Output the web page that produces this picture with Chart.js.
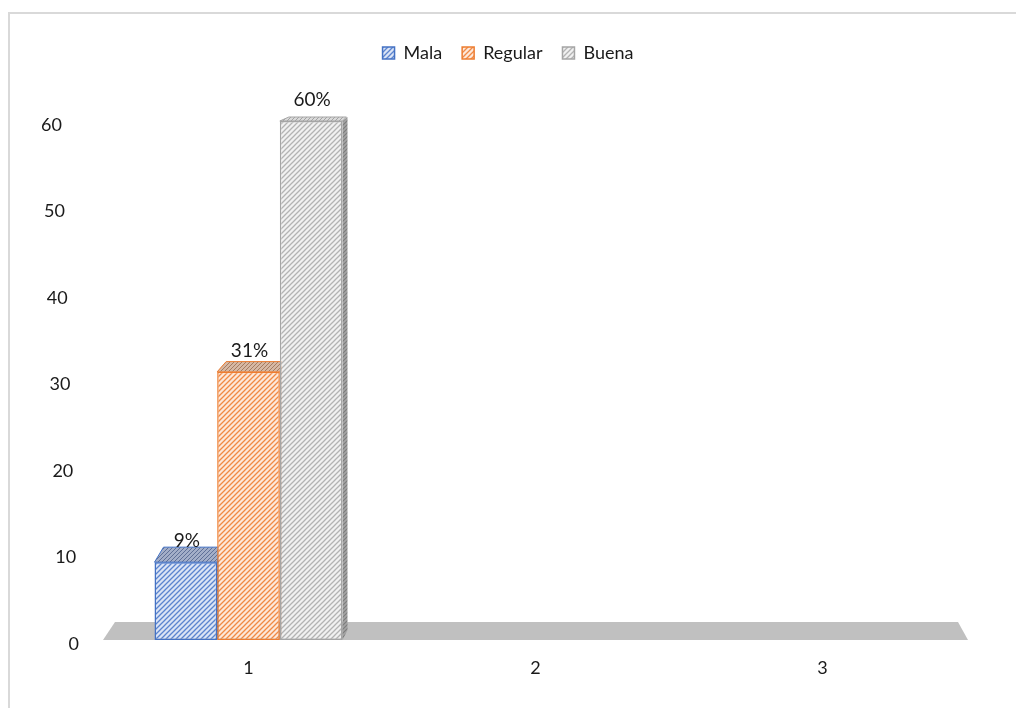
<!DOCTYPE html>
<html>
<head>
<meta charset="utf-8">
<script src="https://cdn.jsdelivr.net/npm/chart.js@4/dist/chart.umd.min.js"></script>
<style>
  html, body { margin: 0; padding: 0; background: #ffffff; overflow: hidden; }
  #wrap { position: relative; width: 1016px; height: 708px; }
  #frame { position: absolute; left: 8px; top: 12px; width: 1100px; height: 800px;
           border: 2px solid #d9d9d9; box-sizing: border-box; pointer-events: none; }
  canvas { position: absolute; left: 0; top: 0; }
</style>
</head>
<body>
<div id="wrap">
  <div id="frame"></div>
  <canvas id="chart" width="1016" height="708"></canvas>
</div>
<script>
// Survey results: one group of answers, three rating levels
const categories = ['1', '2', '3'];
const seriesNames = ['Mala', 'Regular', 'Buena'];
const mala = [9, null, null];
const regular = [31, null, null];
const buena = [60, null, null];
const yTicks = [0, 10, 20, 30, 40, 50, 60];

const FONT = 'Lato, "Open Sans", "Liberation Sans", sans-serif';
const TEXT = '#1a1a1a';

// Diagonal hatch fill ("/" lines) used for the bar faces
function hatch(bg, fg, size, lw) {
  const c = document.createElement('canvas');
  c.width = c.height = size;
  const g = c.getContext('2d');
  g.fillStyle = bg;
  g.fillRect(0, 0, size, size);
  g.strokeStyle = fg;
  g.lineWidth = lw;
  g.beginPath();
  g.moveTo(0, size); g.lineTo(size, 0);
  g.moveTo(-1, 1); g.lineTo(1, -1);
  g.moveTo(size - 1, size + 1); g.lineTo(size + 1, size - 1);
  g.stroke();
  return g.createPattern(c, 'repeat');
}

const styles = [
  { line: '#4472C4', front: hatch('#dbe4f5', '#5b84cf', 5, 1.3), top: hatch('#a3aec8', '#5f7097', 4, 1.0), side: hatch('#7f8fb5', '#40557f', 4, 1.1) },
  { line: '#ED7D31', front: hatch('#fde8da', '#f08a45', 5, 1.3), top: hatch('#d6b8a4', '#a57c60', 4, 1.0), side: hatch('#b8907a', '#875d43', 4, 1.1) },
  { line: '#A5A5A5', front: hatch('#f1f1f1', '#b3b3b3', 5, 1.3), top: hatch('#dadada', '#a3a3a3', 4, 1.0), side: hatch('#a4a4a4', '#7c7c7c', 4, 1.1) }
];

const values = [mala, regular, buena];

// Gray floor under the columns
const floorPlugin = {
  id: 'floor',
  beforeDatasetsDraw(chart) {
    const { ctx, chartArea: a, scales: { y } } = chart;
    const y0 = y.getPixelForValue(0);
    ctx.save();
    ctx.fillStyle = '#c0c0c0';
    ctx.beginPath();
    ctx.moveTo(a.left - 2, y0);
    ctx.lineTo(a.right + 2, y0);
    ctx.lineTo(a.right - 8, y0 - 18);
    ctx.lineTo(a.left + 10, y0 - 18);
    ctx.closePath();
    ctx.fill();
    ctx.restore();
  }
};

// Depth of the top face grows the lower the bar top sits
function depthAt(py) { return Math.max(4, 0.025 * (py + 38)); }

// Top and side faces that give the columns their depth
const depthPlugin = {
  id: 'depth',
  beforeDatasetsDraw(chart) {
    const { ctx, scales: { y } } = chart;
    const base = y.getPixelForValue(0);
    ctx.save();
    chart.data.datasets.forEach((ds, di) => {
      const meta = chart.getDatasetMeta(di);
      meta.data.forEach((bar, i) => {
        if (ds.data[i] == null) return;
        const x0 = bar.x - bar.width / 2, x1 = bar.x + bar.width / 2, t = bar.y;
        const d = depthAt(t);
        // right side face
        ctx.fillStyle = styles[di].side;
        ctx.beginPath();
        ctx.moveTo(x1, t);
        ctx.lineTo(x1 + 5, t - d);
        ctx.lineTo(x1 + 5, base - 10);
        ctx.lineTo(x1, base);
        ctx.closePath();
        ctx.fill();
        // top face
        ctx.fillStyle = styles[di].top;
        ctx.strokeStyle = styles[di].line;
        ctx.lineWidth = 1;
        ctx.beginPath();
        ctx.moveTo(x0, t);
        ctx.lineTo(x1, t);
        ctx.lineTo(x1 + 4, t - d);
        ctx.lineTo(x0 + 9, t - d);
        ctx.closePath();
        ctx.fill();
        ctx.stroke();
      });
    });
    ctx.restore();
  }
};

// Percentage labels over each column
const valueLabels = {
  id: 'valueLabels',
  afterDatasetsDraw(chart) {
    const { ctx } = chart;
    ctx.save();
    ctx.font = '19px ' + FONT;
    ctx.fillStyle = TEXT;
    ctx.textAlign = 'center';
    ctx.textBaseline = 'alphabetic';
    chart.data.datasets.forEach((ds, di) => {
      chart.getDatasetMeta(di).data.forEach((bar, i) => {
        const v = ds.data[i];
        if (v == null) return;
        ctx.fillText(v + '%', bar.x + 1, bar.y - 15);
      });
    });
    ctx.restore();
  }
};

// Value axis labels, drawn slightly slanted to follow the 3D back wall
const slantedTicks = {
  id: 'slantedTicks',
  afterDraw(chart) {
    const { ctx, scales: { y } } = chart;
    ctx.save();
    ctx.font = '18px ' + FONT;
    ctx.fillStyle = TEXT;
    ctx.textAlign = 'right';
    ctx.textBaseline = 'middle';
    y.ticks.forEach(tk => {
      const py = y.getPixelForValue(tk.value) + 4;
      const px = 79 - (645 - py) * 17 / 520;
      ctx.fillText(String(tk.value), px, py);
    });
    ctx.restore();
  }
};

// Room between the legend and the plot
const legendGap = {
  id: 'legendGap',
  beforeInit(chart) {
    const fit = chart.legend.fit;
    chart.legend.fit = function () {
      fit.bind(chart.legend)();
      this.height += 49;
    };
  }
};

new Chart(document.getElementById('chart'), {
  type: 'bar',
  data: {
    labels: categories,
    datasets: seriesNames.map((name, i) => ({
      label: name,
      data: values[i],
      backgroundColor: styles[i].front,
      borderColor: styles[i].line,
      borderWidth: 1.5,
      borderSkipped: false,
      categoryPercentage: 0.655,
      barPercentage: 1.0
    }))
  },
  options: {
    responsive: false,
    animation: false,
    layout: { padding: { top: 24, right: 50, bottom: 0, left: 50 } },
    plugins: {
      legend: {
        position: 'top',
        align: 'center',
        labels: {
          boxWidth: 12,
          boxHeight: 12,
          padding: 20,
          color: TEXT,
          font: { family: FONT, size: 18 }
        }
      },
      tooltip: { enabled: false }
    },
    scales: {
      x: {
        grid: { display: false },
        border: { display: false },
        ticks: { color: TEXT, padding: 9, font: { family: FONT, size: 18 } },
        afterFit(scale) { scale.height = 68; }
      },
      y: {
        min: yTicks[0],
        max: yTicks[yTicks.length - 1],
        grid: { display: false },
        border: { display: false },
        ticks: { display: false, stepSize: yTicks[1] - yTicks[0] },
        afterFit(scale) { scale.width = 55; }
      }
    }
  },
  plugins: [legendGap, floorPlugin, depthPlugin, valueLabels, slantedTicks]
});
</script>
</body>
</html>
